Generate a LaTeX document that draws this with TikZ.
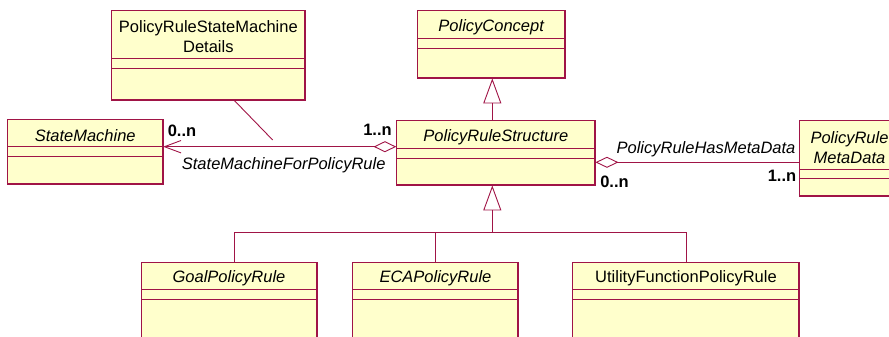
\documentclass[tikz,border=0pt]{standalone}
\usepackage{fontspec}
\setmainfont{Liberation Sans}
\usetikzlibrary{arrows.meta,fit}
\definecolor{umlred}{RGB}{160,20,70}
\definecolor{umlfill}{RGB}{255,255,204}
\tikzset{
  classbox/.style={draw=umlred, fill=umlfill, line width=0.9pt, inner sep=0pt, rectangle},
  shadowline/.style={draw=umlred, line width=2pt},
  cline/.style={draw=umlred, line width=0.9pt},
  conn/.style={draw=umlred, line width=0.9pt},
  utitle/.style={font=\fontsize{16.5}{20}\selectfont, inner sep=0pt, text=black, align=center, yshift=-2.5pt},
  ititle/.style={font=\fontsize{16.5}{20}\selectfont\itshape, inner sep=0pt, text=black, align=center, yshift=-2.5pt},
  mult/.style={font=\fontsize{16.5}{19.5}\selectfont\bfseries, inner sep=0pt, text=black},
  rolelabel/.style={font=\fontsize{16.5}{19.5}\selectfont\itshape, inner sep=0pt, text=black},
  gentip/.style={-{Triangle[open,length=25pt,width=18pt,line width=0.9pt]}},
}
\newcommand\umlclass[9]{%
  \node[classbox, fit={(#2,#3) (#4,#5)}] (#1) {};
  \draw[shadowline] (#2,#5) -- (#4,#5) -- (#4,#3);
  \draw[cline] (#2,#6) -- (#4,#6) (#2,#7) -- (#4,#7);
  \node[#8] (#1-title) at ({(#2+#4)/2},{(#3+#6)/2}) {#9};
}
\begin{document}
\begin{tikzpicture}[x=1pt,y=-1pt]
\useasboundingbox (0,0) rectangle (889,337);
% classes
\umlclass{det}{111.7}{10.7}{305}{100}{58.3}{68.3}{utitle}{PolicyRuleStateMachine\\Details}
\umlclass{sm}{7.7}{119.3}{162.7}{184}{146.7}{156.7}{ititle}{StateMachine}
\umlclass{pc}{417.3}{10.7}{565}{78}{38.3}{48.3}{ititle}{PolicyConcept}
\umlclass{prs}{396.7}{120.7}{595}{185}{148.3}{158.3}{ititle}{PolicyRuleStructure}
\umlclass{md}{799}{120.7}{900}{195.7}{169}{178.3}{ititle}{PolicyRule\\MetaData}
\umlclass{goal}{141}{262}{317}{350}{289.3}{299.3}{ititle}{GoalPolicyRule}
\umlclass{eca}{352.7}{262}{518.3}{350}{289.3}{299.3}{ititle}{ECAPolicyRule}
\umlclass{util}{572.7}{262}{799.3}{350}{289.3}{299.3}{utitle}{UtilityFunctionPolicyRule}
% generalization PRS -> PolicyConcept
\draw[conn, gentip] (prs.north -| 492.3,0) -- (pc.south -| 492.3,0);
% generalization subclasses -> PRS
\coordinate (j) at (492.3,232.7);
\draw[conn, gentip] (j) -- (prs.south -| j);
\draw[conn] (goal.north -| 234.3,0) |- (j);
\draw[conn] (eca.north) -- (eca.north |- j);
\draw[conn] (util.north -| 686.3,0) |- (j);
% association StateMachineForPolicyRule
\draw[conn, {Straight Barb[length=16.6pt,width=12.4pt,line width=0.9pt]}-{Diamond[open,length=22.7pt,width=11pt,line width=0.9pt]}]
  (sm.east |- 0,146.7) -- (prs.west |- 0,146.7);
\coordinate (ac) at (272.7,140);
\draw[conn] (det.south -| 234.3,0) -- (ac);
\node[mult] (m1) at (182,130.7) {0..n};
\node[mult] (m2) at (377.5,130) {1..n};
\node[rolelabel, anchor=west] (r1) at (181.7,165.7) {StateMachineForPolicyRule};
% association PolicyRuleHasMetaData
\draw[conn, {Diamond[open,length=23pt,width=11pt,line width=0.9pt]}-]
  (prs.east |- 0,162.3) -- (md.west |- 0,162.3);
\node[rolelabel] (r2) at (706,149) {PolicyRuleHasMetaData};
\node[mult] (m3) at (614.5,181.7) {0..n};
\node[mult] (m4) at (782,176) {1..n};
\end{tikzpicture}
\end{document}
